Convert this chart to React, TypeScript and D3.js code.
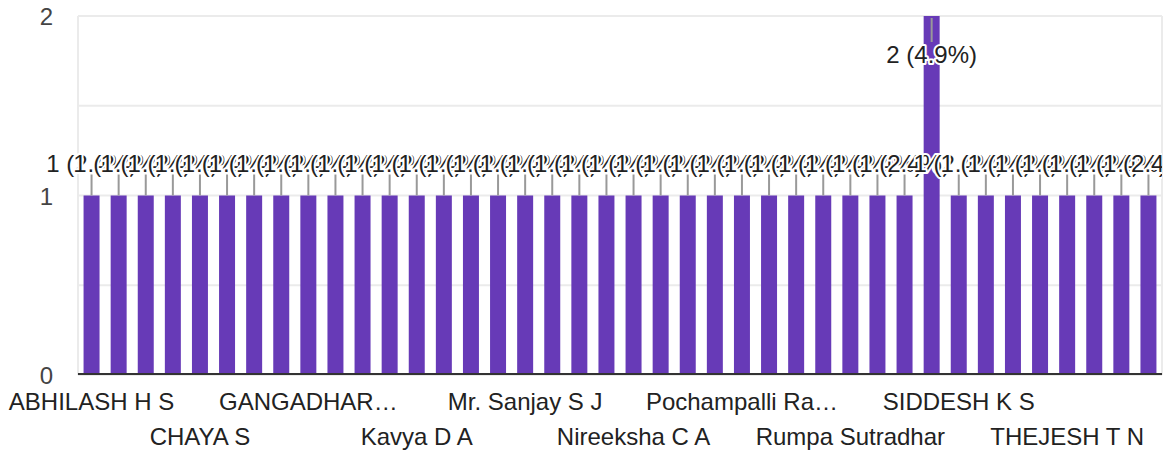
import React from "react";
import * as d3 from "d3";

const categories = [
  "ABHILASH H S", "AKSHATHA R", "ANUSHA K", "BHARATH M",
  "CHAYA S", "DARSHAN B", "DEEPA N", "DIVYA M",
  "GANGADHAR…", "GIRISH K", "HARISH P", "Jyothi S",
  "Kavya D A", "Kiran Kumar", "Madhu R", "Manjunath G",
  "Mr. Sanjay S J", "Nagaraj H", "Naveen K", "Nethra M",
  "Nireeksha C A", "Pallavi S", "Pavan Kumar", "Pavithra R",
  "Pochampalli Ra…", "Prakash B", "Rakesh N", "Ramesh K",
  "Rumpa Sutradhar", "SANDEEP M", "SHASHANK R", "SHILPA K",
  "SIDDESH K S", "SMITHA B", "SUNIL KUMAR", "SURESH H",
  "THEJESH T N", "UMESH R", "VINAY K", "YASHODHA M",
];
const values = [
  1, 1, 1, 1, 1, 1, 1, 1, 1, 1,
  1, 1, 1, 1, 1, 1, 1, 1, 1, 1,
  1, 1, 1, 1, 1, 1, 1, 1, 1, 1,
  1, 2, 1, 1, 1, 1, 1, 1, 1, 1,
];
const yTickLabels = [0, 1, 2];
const gridValues = [0, 0.5, 1, 1.5, 2];

const W = 1171;
const H = 450;
const LEFT = 78;
const RIGHT = 1162;
const TOP = 16;
const BOTTOM = 375;
const FONT = "Arial, 'Liberation Sans', sans-serif";
const BAR = "#673ab7";

export default function App() {
  const total = d3.sum(values);
  const x = d3
    .scaleBand<string>()
    .domain(categories)
    .range([LEFT, RIGHT])
    .paddingInner(0.41)
    .paddingOuter(0.205);
  const y = d3.scaleLinear().domain([0, 2]).range([BOTTOM, TOP]);
  const bw = x.bandwidth();

  const ann = categories.map((c, i) => {
    const v = values[i];
    const top = y(v);
    const cx = (x(c) as number) + bw / 2;
    const text = `${v} (${((v / total) * 100).toFixed(1)}%)`;
    const above = top - 24 - 17 >= TOP;
    return above
      ? { cx, text, ly1: top - 21, ly2: top, ty: top - 24 }
      : { cx, text, ly1: top + 2, ly2: top + 26, ty: top + 47 };
  });

  return (
    <svg
      width={W}
      height={H}
      style={{ position: "absolute", left: 0, top: 0, display: "block", background: "#fff" }}
      fontFamily={FONT}
    >
      <defs>
        <clipPath id="annClip">
          <rect x={0} y={0} width={RIGHT} height={H} />
        </clipPath>
      </defs>
      {gridValues.map((g) => (
        <line key={g} x1={LEFT} x2={RIGHT} y1={y(g)} y2={y(g)} stroke="#ebebeb" strokeWidth={2} />
      ))}
      <line x1={LEFT} x2={LEFT} y1={TOP} y2={BOTTOM} stroke="#ebebeb" strokeWidth={2} />
      <line x1={RIGHT} x2={RIGHT} y1={TOP} y2={BOTTOM} stroke="#ebebeb" strokeWidth={2} />
      {categories.map((c, i) => (
        <rect key={c} x={x(c)} y={y(values[i])} width={bw} height={y(0) - y(values[i])} fill={BAR} />
      ))}
      <line x1={LEFT} x2={RIGHT} y1={BOTTOM - 1} y2={BOTTOM - 1} stroke="#333" strokeWidth={2} />
      {yTickLabels.map((t) => (
        <text key={t} x={53} y={y(t) + 9} textAnchor="end" fontSize={24} fill="#444">
          {t}
        </text>
      ))}
      {categories.map((c, i) =>
        i % 4 === 0 ? (
          <text
            key={c}
            x={(x(c) as number) + bw / 2}
            y={(i / 4) % 2 === 0 ? 410 : 445}
            textAnchor="middle"
            fontSize={24}
            fill="#222"
          >
            {c}
          </text>
        ) : null
      )}
      <g clipPath="url(#annClip)">
        {ann.map((a, i) => (
          <line key={i} x1={a.cx} x2={a.cx} y1={a.ly1} y2={a.ly2} stroke="#999" strokeWidth={2} />
        ))}
        {ann.map((a, i) => (
          <text
            key={i}
            x={a.cx}
            y={a.ty}
            textAnchor="middle"
            fontSize={24}
            fill="#222"
            stroke="#fff"
            strokeWidth={4}
            strokeLinejoin="round"
            paintOrder="stroke"
          >
            {a.text}
          </text>
        ))}
      </g>
    </svg>
  );
}
